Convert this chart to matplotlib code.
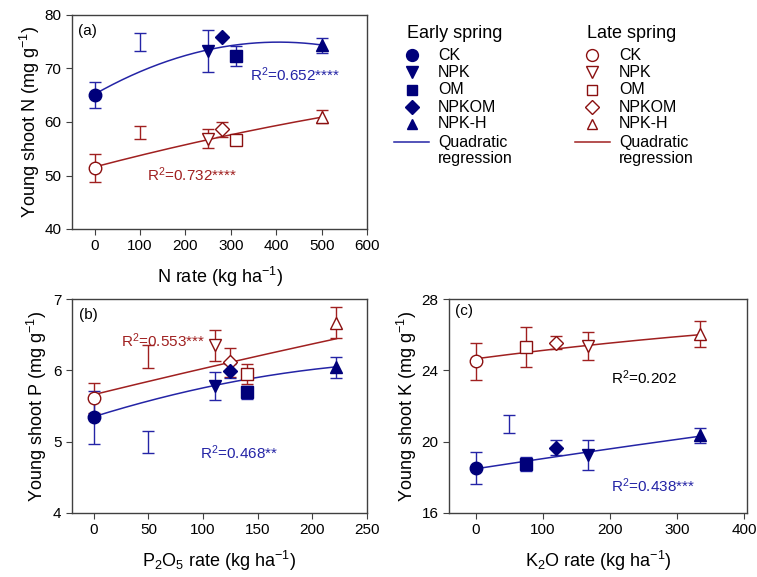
import matplotlib.pyplot as plt
import numpy as np
from matplotlib.lines import Line2D

plt.rcParams['font.family'] = ['Liberation Sans', 'DejaVu Sans']
plt.rcParams['mathtext.fontset'] = 'custom'
plt.rcParams['mathtext.rm'] = 'Liberation Sans'
plt.rcParams['mathtext.it'] = 'Liberation Sans'

treatments = ['CK', 'NPK', 'OM', 'NPKOM', 'NPK-H']
markers = ['o', 'v', 's', 'D', '^']
msizes = [9, 9, 8, 7, 8]

# (a) N
n_rate = [0, 250, 312, 281, 500]
n_early = [65.0, 73.3, 72.3, 75.8, 74.3]
n_early_err = [2.4, 3.9, 1.9, 0.0, 1.4]
n_late = [51.4, 56.9, 56.6, 58.6, 61.0]
n_late_err = [2.6, 1.7, 0.8, 1.4, 1.2]
n_lsd_early = [73.2, 76.7]
n_lsd_late = [56.8, 59.3]
n_fit_early = [65.2, 0.048, -5.92e-5]
n_fit_late = [51.6, 0.0222, -7.2e-6]

# (b) P
p_rate = [0, 111, 140, 125, 222]
p_early = [5.34, 5.78, 5.69, 5.99, 6.04]
p_early_err = [0.37, 0.19, 0.09, 0.10, 0.15]
p_late = [5.61, 6.35, 5.95, 6.11, 6.67]
p_late_err = [0.21, 0.22, 0.14, 0.20, 0.22]
p_lsd_early = [4.84, 5.15]
p_lsd_late = [6.03, 6.36]
p_fit_early = [5.35, 0.00477, -7.3e-6]
p_fit_late = [5.66, 0.00375, -1.0e-6]

# (c) K
k_rate = [0, 167, 75, 120, 334]
k_early = [18.5, 19.25, 18.75, 19.65, 20.35]
k_early_err = [0.9, 0.85, 0.4, 0.42, 0.43]
k_late = [24.5, 25.35, 25.3, 25.55, 26.05]
k_late_err = [1.03, 0.78, 1.12, 0.35, 0.72]
k_lsd_early = [20.5, 21.5]
k_lsd_late = None
k_fit_early = [18.48, 0.0058, -1.0e-6]
k_fit_late = [24.65, 0.00494, -2.7e-6]

BLUE_M = '#00007a'
BLUE_L = '#2424a6'
RED_M = '#8b1010'
RED_L = '#a02020'


def draw_panel(ax, x, early, early_err, late, late_err, lsd_e, lsd_l, lsd_x,
               fit_e, fit_l):
    xs = np.linspace(0, max(x), 200)
    ax.plot(xs, np.polyval(fit_l[::-1], xs), color=RED_L, lw=1.1, zorder=2)
    ax.plot(xs, np.polyval(fit_e[::-1], xs), color=BLUE_L, lw=1.1, zorder=2)
    for i in range(len(x)):
        ax.errorbar(x[i], late[i], yerr=late_err[i], color=RED_L, lw=1.0,
                    capsize=4, capthick=1.0, zorder=3)
        ax.plot(x[i], late[i], marker=markers[i], ms=msizes[i], mfc='white',
                mec=RED_M, mew=1.0, zorder=4)
        ax.errorbar(x[i], early[i], yerr=early_err[i], color=BLUE_L, lw=1.0,
                    capsize=4, capthick=1.0, zorder=3)
        ax.plot(x[i], early[i], marker=markers[i], ms=msizes[i], color=BLUE_M,
                mec=BLUE_M, zorder=4)
    if lsd_e is not None:
        ax.errorbar(lsd_x, np.mean(lsd_e), yerr=(lsd_e[1] - lsd_e[0]) / 2,
                    color=BLUE_L, lw=1.0, capsize=4, capthick=1.0)
    if lsd_l is not None:
        ax.errorbar(lsd_x, np.mean(lsd_l), yerr=(lsd_l[1] - lsd_l[0]) / 2,
                    color=RED_L, lw=1.0, capsize=4, capthick=1.0)
    for s in ax.spines.values():
        s.set_color('#404040')
        s.set_linewidth(1.0)
    ax.tick_params(direction='out', labelsize=11, length=4, color='#404040')


fig = plt.figure(figsize=(7.57, 5.77), dpi=100)
W, H = 757, 577


def add_axes(l, t, r, b):
    return fig.add_axes([l / W, 1 - b / H, (r - l) / W, (b - t) / H])


ax_a = add_axes(72, 15, 367, 229)
ax_b = add_axes(72, 299, 367, 513)
ax_c = add_axes(449, 299, 747, 513)

draw_panel(ax_a, n_rate, n_early, n_early_err, n_late, n_late_err,
           n_lsd_early, n_lsd_late, 100, n_fit_early, n_fit_late)
ax_a.set_xlim(-50, 600)
ax_a.set_ylim(40, 80)
ax_a.set_xticks(range(0, 601, 100))
ax_a.set_yticks(range(40, 81, 10))
ax_a.set_xlabel('N rate (kg ha$^{-1}$)', fontsize=13, labelpad=8)
ax_a.set_ylabel('Young shoot N (mg g$^{-1}$)', fontsize=13, labelpad=2)
ax_a.text(-37, 77, '(a)', fontsize=11, va='center')
ax_a.text(343, 68.8, 'R$^2$=0.652****', color=BLUE_L, fontsize=11, va='center')
ax_a.text(115, 50.2, 'R$^2$=0.732****', color=RED_L, fontsize=11, va='center')

draw_panel(ax_b, p_rate, p_early, p_early_err, p_late, p_late_err,
           p_lsd_early, p_lsd_late, 50, p_fit_early, p_fit_late)
ax_b.set_xlim(-20, 250)
ax_b.set_ylim(4, 7)
ax_b.set_xticks(range(0, 251, 50))
ax_b.set_yticks([4, 5, 6, 7])
ax_b.set_xlabel('P$_2$O$_5$ rate (kg ha$^{-1}$)', fontsize=13, labelpad=8)
ax_b.set_ylabel('Young shoot P (mg g$^{-1}$)', fontsize=13, labelpad=3)
ax_b.text(-14, 6.78, '(b)', fontsize=11, va='center')
ax_b.text(25, 6.42, 'R$^2$=0.553***', color=RED_L, fontsize=11, va='center')
ax_b.text(97, 4.84, 'R$^2$=0.468**', color=BLUE_L, fontsize=11, va='center')

draw_panel(ax_c, k_rate, k_early, k_early_err, k_late, k_late_err,
           k_lsd_early, k_lsd_late, 50, k_fit_early, k_fit_late)
ax_c.set_xlim(-40, 404)
ax_c.set_ylim(16, 28)
ax_c.set_xticks(range(0, 401, 100))
ax_c.set_yticks([16, 20, 24, 28])
ax_c.set_xlabel('K$_2$O rate (kg ha$^{-1}$)', fontsize=13, labelpad=8)
ax_c.set_ylabel('Young shoot K (mg g$^{-1}$)', fontsize=13, labelpad=2)
ax_c.text(-31, 27.3, '(c)', fontsize=11, va='center')
ax_c.text(202, 23.6, 'R$^2$=0.202', color='black', fontsize=11, va='center')
ax_c.text(202, 17.55, 'R$^2$=0.438***', color=BLUE_L, fontsize=11, va='center')

# legends drawn by hand in pixel positions of the figure
row_y = [55, 72, 90, 107, 124]


def fx(px):
    return px / W


def fy(py):
    return 1 - py / H


for title, tx, mx, lx0, lx1, txt_x, mcol, lcol, filled in [
        ('Early spring', 407, 412, 394, 429, 438, BLUE_M, BLUE_L, True),
        ('Late spring', 587, 592, 575, 610, 619, RED_M, RED_L, False)]:
    fig.text(fx(tx), fy(33), title, fontsize=13, va='center', ha='left')
    for name, m, s, y in zip(treatments, markers, msizes, row_y):
        fig.add_artist(Line2D([fx(mx)], [fy(y)], ls='none', marker=m,
                              ms=s * 0.95, mec=mcol, mew=1.0,
                              mfc=mcol if filled else 'white',
                              transform=fig.transFigure))
        fig.text(fx(txt_x), fy(y), name, fontsize=11.5, va='center', ha='left')
    fig.add_artist(Line2D([fx(lx0), fx(lx1)], [fy(142), fy(142)], color=lcol,
                          lw=1.1, transform=fig.transFigure))
    fig.text(fx(txt_x), fy(142), 'Quadratic', fontsize=11.5, va='center')
    fig.text(fx(txt_x), fy(159), 'regression', fontsize=11.5, va='center')

fig.savefig('out.png', dpi=100)
